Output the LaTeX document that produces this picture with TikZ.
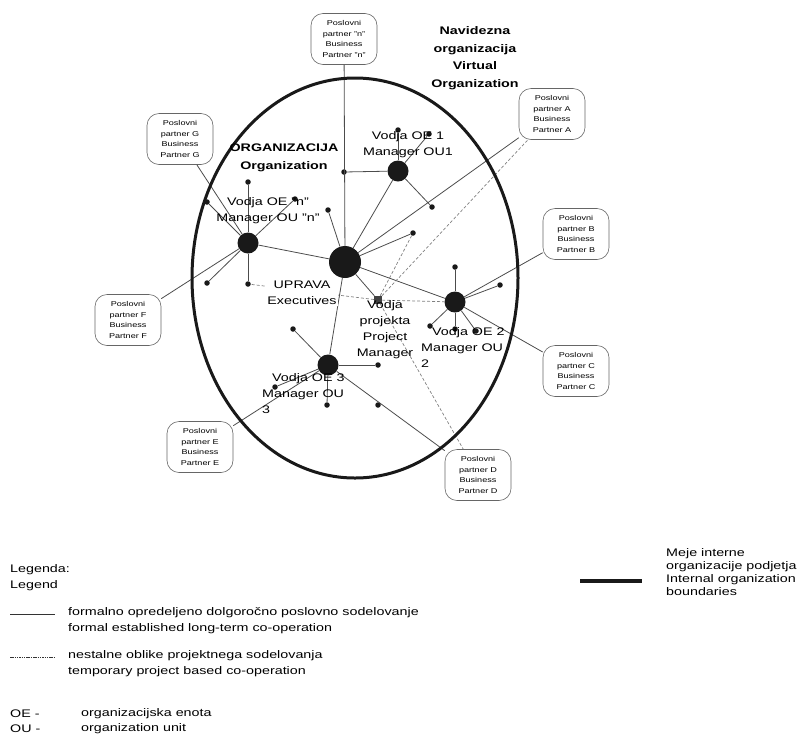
\documentclass[tikz,border=0pt]{standalone}
\usepackage{fontspec}
\setmainfont{Liberation Sans}[FakeStretch=1.3]
\usepackage{tikz}
\usetikzlibrary{positioning}
\newcommand{\lblfont}{\fontsize{11}{16}\selectfont}
\newcommand{\ttlfont}{\fontsize{11}{17.5}\selectfont\bfseries}
\newcommand{\boxfont}{\fontsize{7}{10.5}\selectfont}
\tikzstyle{hub} = [circle, fill=black!90, inner sep=0pt, minimum size=21pt]
\tikzstyle{smalldot} = [circle, fill=black!90, inner sep=0pt, minimum size=5.5pt]
\tikzstyle{partner} = [draw=black!60, line width=0.6pt, rounded corners=12pt,
   align=center, font=\boxfont, minimum width=66pt, minimum height=51pt, inner sep=1pt]
\tikzstyle{link} = [line width=0.8pt, black!70]
\tikzstyle{temp} = [line width=0.7pt, black!50, dash pattern=on 3pt off 2pt]
\tikzstyle{lbl} = [align=center, font=\lblfont, inner sep=1pt]
\tikzstyle{boundary} = [line width=3pt, black!90]

\begin{document}
\begin{tikzpicture}[x=1pt,y=-1pt]
			\useasboundingbox (0,0) rectangle (799,737);
			% hubs
			\node[hub,minimum size=32pt] (ctr) at (345,262) {};
			\node[hub] (oe1) at (398,171) {};
			\node[hub] (oen) at (248,243) {};
			\node[hub] (oe2) at (455,302) {};
			\node[hub] (oe3) at (328,365) {};
			\node[rectangle,fill=black!75,inner sep=0pt,minimum size=8pt] (pm) at (378,300) {};

			% small dots
			\node[smalldot] (d1a) at (398,130) {};
			\node[smalldot] (d1b) at (344,172) {};
			\node[smalldot] (d1c) at (432,207) {};
			\node[smalldot] (d1d) at (429,134) {};
			\node[smalldot] (dc1) at (413,233) {};
			\node[smalldot] (dc2) at (328,210) {};
			\node[smalldot] (dn1) at (248,182) {};
			\node[smalldot] (dn2) at (295,199) {};
			\node[smalldot] (dn3) at (207,202) {};
			\node[smalldot] (dn4) at (207,283) {};
			\node[smalldot] (dn5) at (248,284) {};
			\node[smalldot] (d2a) at (455,267) {};
			\node[smalldot] (d2b) at (500,285) {};
			\node[smalldot] (d2c) at (430,326) {};
			\node[smalldot] (d2d) at (455,329) {};
			\node[smalldot] (d2e) at (476,331) {};
			\node[smalldot] (d3a) at (293,329) {};
			\node[smalldot] (d3b) at (275,387) {};
			\node[smalldot] (d3c) at (327,405) {};
			\node[smalldot] (d3d) at (378,405) {};
			\node[smalldot] (d3e) at (378,365) {};

			% business partners
			\node[partner] (pn) at (344,39) {Poslovni\\partner "n"\\Business\\Partner "n"};
			\node[partner] (pg) at (180,139) {Poslovni\\partner G\\Business\\Partner G};
			\node[partner] (pa) at (552,114) {Poslovni\\partner A\\Business\\Partner A};
			\node[partner] (pb) at (576,234) {Poslovni\\partner B\\Business\\Partner B};
			\node[partner] (pc) at (576,371) {Poslovni\\partner C\\Business\\Partner C};
			\node[partner] (pd) at (478,475) {Poslovni\\partner D\\Business\\Partner D};
			\node[partner] (pe) at (200,447) {Poslovni\\partner E\\Business\\Partner E};
			\node[partner] (pf) at (128,320) {Poslovni\\partner F\\Business\\Partner F};

			% 1st pass: long-term links
			\draw[link] (pn) -- (ctr);
			\draw[link] (ctr) -- (oe1);
			\draw[link] (ctr) -- (pa);
			\draw[link] (ctr) -- (dc1);
			\draw[link] (ctr) -- (dc2);
			\draw[link] (ctr) -- (oe2);
			\draw[link] (ctr) -- (oen);
			\draw[link] (ctr) -- (pm);
			\draw[link] (ctr) -- (oe3);
			\draw[link] (d1b) -- (oe1);
			\draw[link] (oe1) -- (d1a);
			\draw[link] (oe1) -- (d1c);
			\draw[link] (oe1) -- (d1d);
			\draw[link] (oen) -- (dn1);
			\draw[link] (oen) -- (dn2);
			\draw[link] (oen) -- (dn3);
			\draw[link] (oen) -- (dn4);
			\draw[link] (oen) -- (dn5);
			\draw[link] (oen) -- (pg);
			\draw[link] (oen) -- (pf);
			\draw[link] (oe2) -- (d2a);
			\draw[link] (oe2) -- (d2b);
			\draw[link] (oe2) -- (d2c);
			\draw[link] (oe2) -- (d2d);
			\draw[link] (oe2) -- (d2e);
			\draw[link] (oe2) -- (pb);
			\draw[link] (oe2) -- (pc);
			\draw[link] (oe3) -- (d3a);
			\draw[link] (oe3) -- (d3b);
			\draw[link] (oe3) -- (d3c);
			\draw[link] (oe3) -- (d3e);
			\draw[link] (oe3) -- (pe);
			\draw[link] (oe3) -- (pd);

			% 2nd pass: project links
			\draw[temp] (pm) -- (pa);
			\draw[temp] (pm) -- (dc1);
			\draw[temp] (pm) -- (pd);
			\draw[temp] (pm) -- (dn5);
			\draw[temp] (pm) -- (oe2);

			% organization boundary
			\draw[boundary] (355,278) ellipse [x radius=163, y radius=200];

			% labels
			\node[lbl,font=\ttlfont] (virt) at (475,58) {Navidezna\\organizacija\\Virtual\\Organization};
			\node[lbl,font=\ttlfont] (org) at (284,158) {ORGANIZACIJA\\Organization};
			\node[lbl] (l1) at (408,145) {Vodja OE 1\\Manager OU1};
			\node[lbl] (ln) at (268,211) {Vodja OE "n"\\Manager OU "n"};
			\node[lbl,fill=white] (lc) at (302,293) {UPRAVA\\Executives};
			\node[lbl] (lpm) at (385,330) {Vodja\\projekta\\Project\\Manager};
			\node[lbl,align=left,anchor=west] (l2) at (420,348) {\hspace*{11pt}Vodja OE 2\\Manager OU\\2};
			\node[lbl,align=left,anchor=west] (l3) at (261,394) {\hspace*{10pt}Vodja OE 3\\Manager OU\\3};

			% legend
			\node[lbl,align=left,anchor=west] (leg) at (9,578) {Legenda:\\Legend};
			\coordinate (s1a) at (10,614);
			\coordinate[right=45pt of s1a] (s1b);
			\draw[line width=0.8pt, black!80] (s1a) -- (s1b);
			\node[lbl,align=left,anchor=west,right=12pt of s1b,yshift=-7pt] (t1) {formalno opredeljeno dolgoročno poslovno sodelovanje\\formal established long-term co-operation};
			\coordinate (s2a) at (10,657);
			\coordinate[right=45pt of s2a] (s2b);
			\draw[line width=0.6pt, black!80, dash pattern=on 1.5pt off 0.8pt] (s2a) -- (s2b);
			\node[lbl,align=left,anchor=west,right=12pt of s2b,yshift=-7pt] (t2) {nestalne oblike projektnega sodelovanja\\temporary project based co-operation};
			\node[lbl,anchor=west] (oe) at (9,714) {OE -};
			\node[lbl,anchor=west] (ou) at (9,729) {OU -};
			\node[lbl,anchor=west] (oet) at (80,714) {organizacijska enota};
			\node[lbl,anchor=west] (out) at (80,729) {organization unit};
			\coordinate (s3a) at (580,581);
			\coordinate[right=62pt of s3a] (s3b);
			\draw[line width=4pt, black!90] (s3a) -- (s3b);
			\node[lbl,align=left,anchor=west,font=\fontsize{11}{13}\selectfont] (t3) at (665,572) {Meje interne\\organizacije podjetja\\Internal organization\\boundaries};
		\end{tikzpicture}
\end{document}
